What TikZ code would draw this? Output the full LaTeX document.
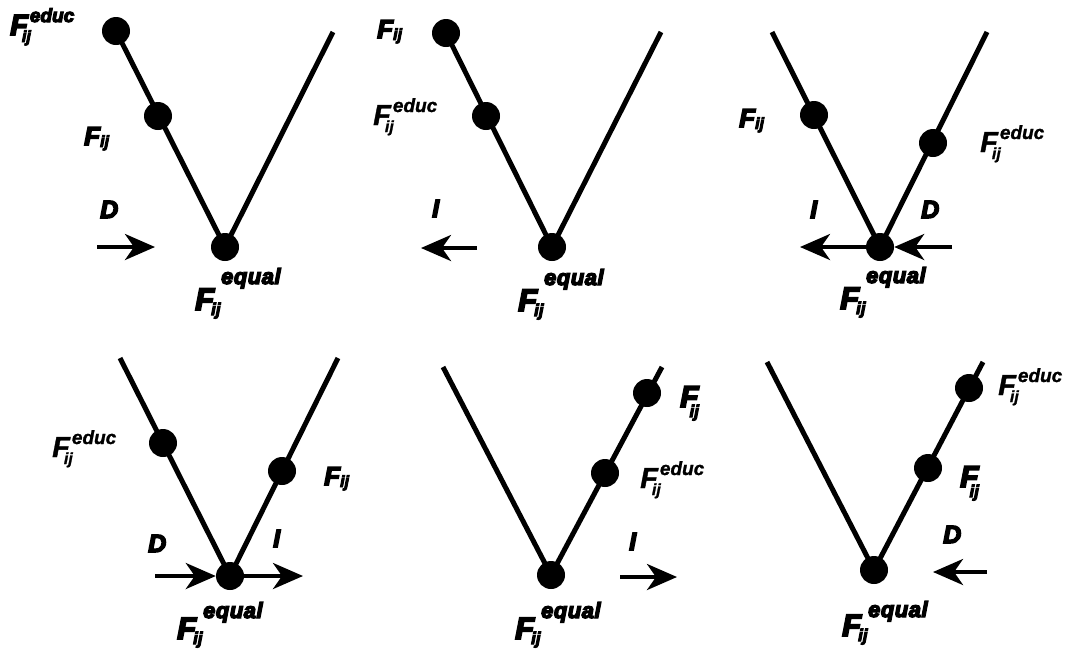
\documentclass[tikz,border=0pt]{standalone}
\usepackage{fontspec}
\setmainfont{Liberation Sans}
\newfontfamily\hv{Liberation Sans}[BoldItalicFeatures={FakeBold=6}]
\newfontfamily\hvm{Liberation Sans}[BoldItalicFeatures={FakeBold=1.3}]
\usetikzlibrary{arrows.meta}
% F_ij^equal, #1 = raise of the superscript
\newcommand\Feq[1]{{\fontsize{31}{31}\selectfont F}\kern-3pt\rlap{\raisebox{-5pt}{\fontsize{17}{17}\selectfont ij}}\kern10pt\raisebox{#1}{\fontsize{22}{22}\selectfont e\kern.5pt q\kern.5pt u\kern.5pt a\kern.5pt l}}
% F_ij^educ
\newcommand\Fed{{\fontsize{29}{29}\selectfont F}\kern-6pt\rlap{\raisebox{-7pt}{\fontsize{16}{16}\selectfont ij}}\kern8pt\raisebox{13pt}{\fontsize{19}{19}\selectfont educ}}
% small F_ij
\newcommand\Fs{{\fontsize{26}{26}\selectfont F}\kern0pt\raisebox{-2pt}{\fontsize{16}{16}\selectfont ij}}
% big F_ij with ij below
\newcommand\Fb{{\fontsize{30}{30}\selectfont F}\kern-9pt\raisebox{-10pt}{\fontsize{17}{17}\selectfont ij}}
\newcommand\Let[1]{{\fontsize{25}{25}\selectfont #1}}
\begin{document}
\begin{tikzpicture}[x=1pt,y=-1pt,
  vline/.style={line width=5pt},
  dot/.style={circle, fill=black, inner sep=0pt, minimum size=28pt},
  arr/.style={line width=4pt, -{Stealth[length=30pt,width=26pt,inset=9pt]}},
  lab/.style={inner sep=0pt, anchor=base west, font=\hv\bfseries\itshape},
  lablight/.style={inner sep=0pt, anchor=base west, font=\hvm\bfseries\itshape}]
\useasboundingbox[fill=white] (0,0) rectangle (1065,649);

% ---------- Panel 1 ----------
\coordinate (a1) at (116,31);
\coordinate (m1) at (158,116);
\coordinate (c1) at (225,247);
\coordinate (e1) at (333,32);
\draw[vline] (a1) -- (c1) -- (e1);
\node[dot] (A1) at (a1) {};
\node[dot] (M1) at (m1) {};
\node[dot] (C1) at (c1) {};
\coordinate (s1) at (97,247);
\coordinate (t1) at (155,247);
\draw[arr] (s1) -- (t1);
\node[lab] (L1a) at (10,35) {\Fed};
\node[lab] (L1b) at (84,145) {\Fs};
\node[lab] (L1c) at (100,218) {\Let{D}};
\node[lab] (L1d) at (195,310) {\Feq{26pt}};

% ---------- Panel 2 ----------
\coordinate (a2) at (446,33);
\coordinate (m2) at (486,116);
\coordinate (c2) at (552,247);
\coordinate (e2) at (661,32);
\draw[vline] (a2) -- (c2) -- (e2);
\node[dot] (A2) at (a2) {};
\node[dot] (M2) at (m2) {};
\node[dot] (C2) at (c2) {};
\coordinate (s2) at (477,248);
\coordinate (t2) at (421,248);
\draw[arr] (s2) -- (t2);
\node[lab] (L2a) at (377,38) {\Fs};
\node[lablight] (L2b) at (373,125) {\Fed};
\node[lab] (L2c) at (432,217) {\Let{I}};
\node[lab] (L2d) at (518,311) {\Feq{26pt}};

% ---------- Panel 3 ----------
\coordinate (a3) at (772,32);
\coordinate (m3) at (814,115);
\coordinate (c3) at (880,247);
\coordinate (n3) at (933,143);
\coordinate (e3) at (987,32);
\draw[vline] (a3) -- (c3) -- (e3);
\node[dot] (M3) at (m3) {};
\node[dot] (C3) at (c3) {};
\node[dot] (N3) at (n3) {};
\coordinate (t3) at (800,247);
\coordinate (s3) at (952,247);
\draw[arr] (C3) -- (t3);
\draw[arr] (s3) -- (C3);
\node[lab] (L3a) at (739,127) {\Fs};
\node[lablight] (L3b) at (980,152) {\Fed};
\node[lab] (L3c) at (810,218) {\Let{I}};
\node[lab] (L3d) at (921,218) {\Let{D}};
\node[lab] (L3e) at (840,309) {\Feq{26pt}};

% ---------- Panel 4 ----------
\coordinate (a4) at (120,358);
\coordinate (m4) at (163,443);
\coordinate (c4) at (230,576);
\coordinate (n4) at (282,471);
\coordinate (e4) at (338,358);
\draw[vline] (a4) -- (c4) -- (e4);
\node[dot] (M4) at (m4) {};
\node[dot] (C4) at (c4) {};
\node[dot] (N4) at (n4) {};
\coordinate (s4) at (155,576);
\coordinate (t4) at (303,576);
\draw[arr] (s4) -- (C4);
\draw[arr] (C4) -- (t4);
\node[lablight] (L4a) at (52,457) {\Fed};
\node[lab] (L4b) at (324,485) {\Fs};
\node[lab] (L4c) at (148,552) {\Let{D}};
\node[lab] (L4d) at (273,547) {\Let{I}};
\node[lab] (L4e) at (177,639) {\Feq{21pt}};

% ---------- Panel 5 ----------
\coordinate (a5) at (443,367);
\coordinate (c5) at (551,575);
\coordinate (m5) at (605,473);
\coordinate (n5) at (647,393);
\coordinate (e5) at (662,367);
\draw[vline] (a5) -- (c5) -- (e5);
\node[dot] (C5) at (c5) {};
\node[dot] (M5) at (m5) {};
\node[dot] (N5) at (n5) {};
\coordinate (s5) at (620,577);
\coordinate (t5) at (677,577);
\draw[arr] (s5) -- (t5);
\node[lab] (L5a) at (680,407) {\Fb};
\node[lablight] (L5b) at (640,488) {\Fed};
\node[lab] (L5c) at (629,550) {\Let{I}};
\node[lab] (L5d) at (515,639) {\Feq{21pt}};

% ---------- Panel 6 ----------
\coordinate (a6) at (767,362);
\coordinate (c6) at (874,570);
\coordinate (m6) at (928,468);
\coordinate (n6) at (969,388);
\coordinate (e6) at (983,362);
\draw[vline] (a6) -- (c6) -- (e6);
\node[dot] (C6) at (c6) {};
\node[dot] (M6) at (m6) {};
\node[dot] (N6) at (n6) {};
\coordinate (s6) at (987,572);
\coordinate (t6) at (933,572);
\draw[arr] (s6) -- (t6);
\node[lablight] (L6a) at (998,395) {\Fed};
\node[lab] (L6b) at (960,487) {\Fb};
\node[lab] (L6c) at (943,543) {\Let{D}};
\node[lab] (L6d) at (842,636) {\Feq{19pt}};
\end{tikzpicture}
\end{document}
